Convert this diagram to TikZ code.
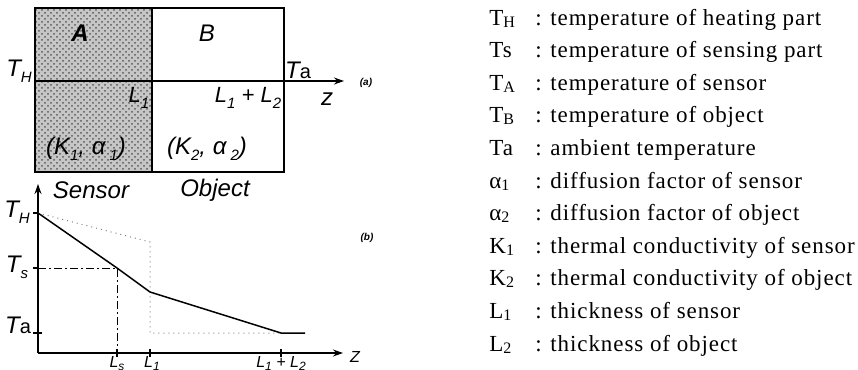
\documentclass[tikz,border=0pt]{standalone}
\usepackage{fontspec}
\setmainfont{Liberation Serif}
\newfontfamily\arialf{Liberation Sans}
\newfontfamily\legfont[LetterSpace=4]{Liberation Serif}
\usetikzlibrary{patterns,arrows.meta}
\newcommand\sbs[1]{\raisebox{-0.2ex}{\fontsize{8}{8}\selectfont #1}}
\newcommand\isub[1]{\raisebox{-0.45ex}{\fontsize{7.5}{8}\selectfont #1}}
\newcommand\ssub[1]{\raisebox{-0.3ex}{\fontsize{6}{6}\selectfont #1}}
\begin{document}
\begin{tikzpicture}[x=0.5pt,y=-0.5pt,
  lbl/.style={font=\arialf\itshape\fontsize{12}{14}\selectfont, inner sep=0pt},
  slbl/.style={font=\arialf\itshape\fontsize{11}{13}\selectfont, inner sep=0pt},
  xlbl/.style={font=\arialf\itshape\fontsize{8}{9}\selectfont, inner sep=0pt, anchor=north},
  tinylbl/.style={font=\arialf\bfseries\itshape\fontsize{5}{6}\selectfont, inner sep=0pt},
  leg/.style={font=\legfont\fontsize{11.5}{13}\selectfont, anchor=base west, inner sep=0pt},
  axisline/.style={line width=0.7pt, -{Stealth[length=5pt,width=3.5pt]}},
  curve/.style={line width=0.75pt},
  guide/.style={line width=0.5pt, gray, dotted},
  dashdot/.style={line width=0.5pt, dash pattern=on 4pt off 1.5pt on 1pt off 1.5pt},
  tick/.style={line width=0.6pt}]
\useasboundingbox (0,0) rectangle (858,370);
\clip (0,0) rectangle (858,370);

% ---------- (a) ----------
\fill[gray!45] (35,8) rectangle (152,172);
\fill[pattern=crosshatch dots, pattern color=black!65] (35,8) rectangle (152,172);
\draw[line width=0.8pt] (35,8) rectangle (284,172);
\draw[line width=1.2pt] (152,8) -- (152,172);
\coordinate (za) at (35,81);
\coordinate (zb) at (344,81);
\draw[axisline] (za) -- (zb);

\node[lbl] (A) at (80,33) {\bfseries A};
\node[lbl] (B) at (207,33) {B};
\node[lbl] (THa) at (19,71) {T\isub{H}};
\node[lbl] (Taa) at (298,70) {T{\upshape\fontsize{10}{10}\selectfont a}};
\node[slbl] (L1a) at (139,98) {L\isub{1}};
\node[slbl] (L12a) at (248,98) {L\isub{1} + L\isub{2}};
\node[lbl] (za2) at (327,99) {z};
\node[tinylbl] (pa) at (366,83) {(a)};
\node[lbl] (K1) at (86,149) {(K\isub{1}, α\,\isub{1})};
\node[lbl] (K2) at (207,149) {(K\isub{2}, α\,\isub{2})};

% ---------- (b) ----------
\node[lbl] (sens) at (91,190) {Sensor};
\node[lbl] (obj) at (215,190) {Object};

\coordinate (O) at (38,353);
\coordinate (ytop) at (38,184);
\coordinate (xend) at (343,353);
\draw[axisline] (O) -- (ytop);
\draw[axisline] (O) -- (xend);

\coordinate (pH) at (38,213);
\coordinate (pS) at (117,268);
\coordinate (p1) at (150,292);
\coordinate (p2) at (281,333);
\coordinate (p3) at (305,333);
\coordinate (g1) at (150,242);
\coordinate (g2) at (150,333);
\coordinate (sL) at (38,268);
\coordinate (sB) at (117,353);

\draw[guide] (pH) -- (g1) -- (g2) -- (p2);
\draw[dashdot] (sL) -- (pS) -- (sB);
\draw[curve] (pH) -- (pS) -- (p1) -- (p2) -- (p3);

\draw[tick] (33,213) -- (38,213);
\draw[tick] (33,268) -- (38,268);
\draw[tick] (33,333) -- (42,333);
\draw[tick] (117,349) -- (117,357);
\draw[tick] (150,349) -- (150,357);
\draw[tick] (281,349) -- (281,357);

\node[lbl] (THb) at (17,212) {T\isub{H}};
\node[lbl] (Tsb) at (17,267) {T\isub{s}};
\node[lbl] (Tab) at (18,325) {T{\upshape\fontsize{10}{10}\selectfont a}};
\node[tinylbl] (pb) at (367,238) {(b)};
\node[font=\arialf\itshape\fontsize{8}{9}\selectfont, inner sep=0pt] (Zb) at (355,357) {Z};
\node[xlbl] (Lsb) at (117,356.5) {L\ssub{s}};
\node[xlbl] (L1b) at (152,356.5) {L\ssub{1}};
\node[xlbl] (L12b) at (281,356.5) {L\ssub{1} + L\ssub{2}};

% ---------- legend ----------
\newcommand\legrow[4]{%
  \node[leg] (s#1) at (489,#2) {#3};
  \node[leg] (c#1) at (535,#2) {:};
  \node[leg] (t#1) at (550,#2) {#4};}
\legrow{1}{25}{T\sbs{H}}{temperature of heating part}
\legrow{2}{57.6}{Ts}{temperature of sensing part}
\legrow{3}{90.2}{T\sbs{A}}{temperature of sensor}
\legrow{4}{122.8}{T\sbs{B}}{temperature of object}
\legrow{5}{155.4}{Ta}{ambient temperature}
\legrow{6}{188}{α\sbs{1}}{diffusion factor of sensor}
\legrow{7}{220.6}{α\sbs{2}}{diffusion factor of object}
\legrow{8}{253.2}{K\sbs{1}}{thermal conductivity of sensor}
\legrow{9}{285.8}{K\sbs{2}}{thermal conductivity of object}
\legrow{10}{318.4}{L\sbs{1}}{thickness of sensor}
\legrow{11}{351}{L\sbs{2}}{thickness of object}
\end{tikzpicture}
\end{document}
